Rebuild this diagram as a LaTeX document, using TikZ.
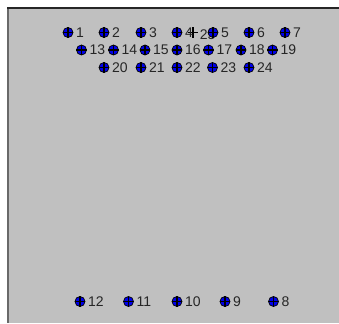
\documentclass[tikz,border=0pt]{standalone}
\usepackage{fontspec}
\setmainfont{Liberation Sans}
\usetikzlibrary{positioning}
\definecolor{panelgray}{RGB}{192,192,192}
\definecolor{edgegray}{RGB}{105,105,105}
\definecolor{markblue}{RGB}{0,0,235}
\tikzset{
  marker/.style={circle, draw=black, fill=markblue, line width=0.7pt, minimum size=10pt, inner sep=0pt},
  crossmark/.style={draw=none, minimum size=10pt, inner sep=0pt},
  cross/.style={black, line width=1.1pt},
  tag/.style={font=\fontsize{14}{15}\selectfont, text=black!85, inner sep=0pt}
}

\begin{document}
\begin{tikzpicture}[x=1pt, y=-1pt]
  \useasboundingbox (0,0) rectangle (339,323);
  % panel
  \fill[white] (0,0) rectangle (339,323);
  \fill[panelgray] (8,8) rectangle (339,323);
  \draw[edgegray, line width=2pt] (8,8) -- (8,323);
  \draw[black!85, line width=1.5pt] (7,8) -- (339,8);

  % point 25 (cross only)
  \node[crossmark] (p25) at (193,32.5) {};
  \draw[cross] (p25.north) -- (p25.south) (p25.west) -- (p25.east);
  \node[tag, right=1.5pt of p25, yshift=-2pt] (t25) {25};

  % marked points
  \foreach \n/\x/\y in {1/68/32.5, 2/104/32.5, 3/141/32.5, 4/177/32.5, 5/213/32.5, 6/249/32.5, 7/285/32.5,
      13/81.5/50, 14/113.5/50, 15/145/50, 16/177/50, 17/208.5/50, 18/241/50, 19/272.5/50,
      20/104/67.5, 21/141/67.5, 22/177/67.5, 23/212.5/67.5, 24/249/67.5,
      12/80/301.5, 11/128.5/301.5, 10/177/301.5, 9/225/301.5, 8/273.5/301.5} {
    \node[marker] (p\n) at (\x,\y) {};
    \draw[cross] (p\n.north) -- (p\n.south) (p\n.west) -- (p\n.east);
    \node[tag, right=2.5pt of p\n] (t\n) {\n};
  }
\end{tikzpicture}
\end{document}
